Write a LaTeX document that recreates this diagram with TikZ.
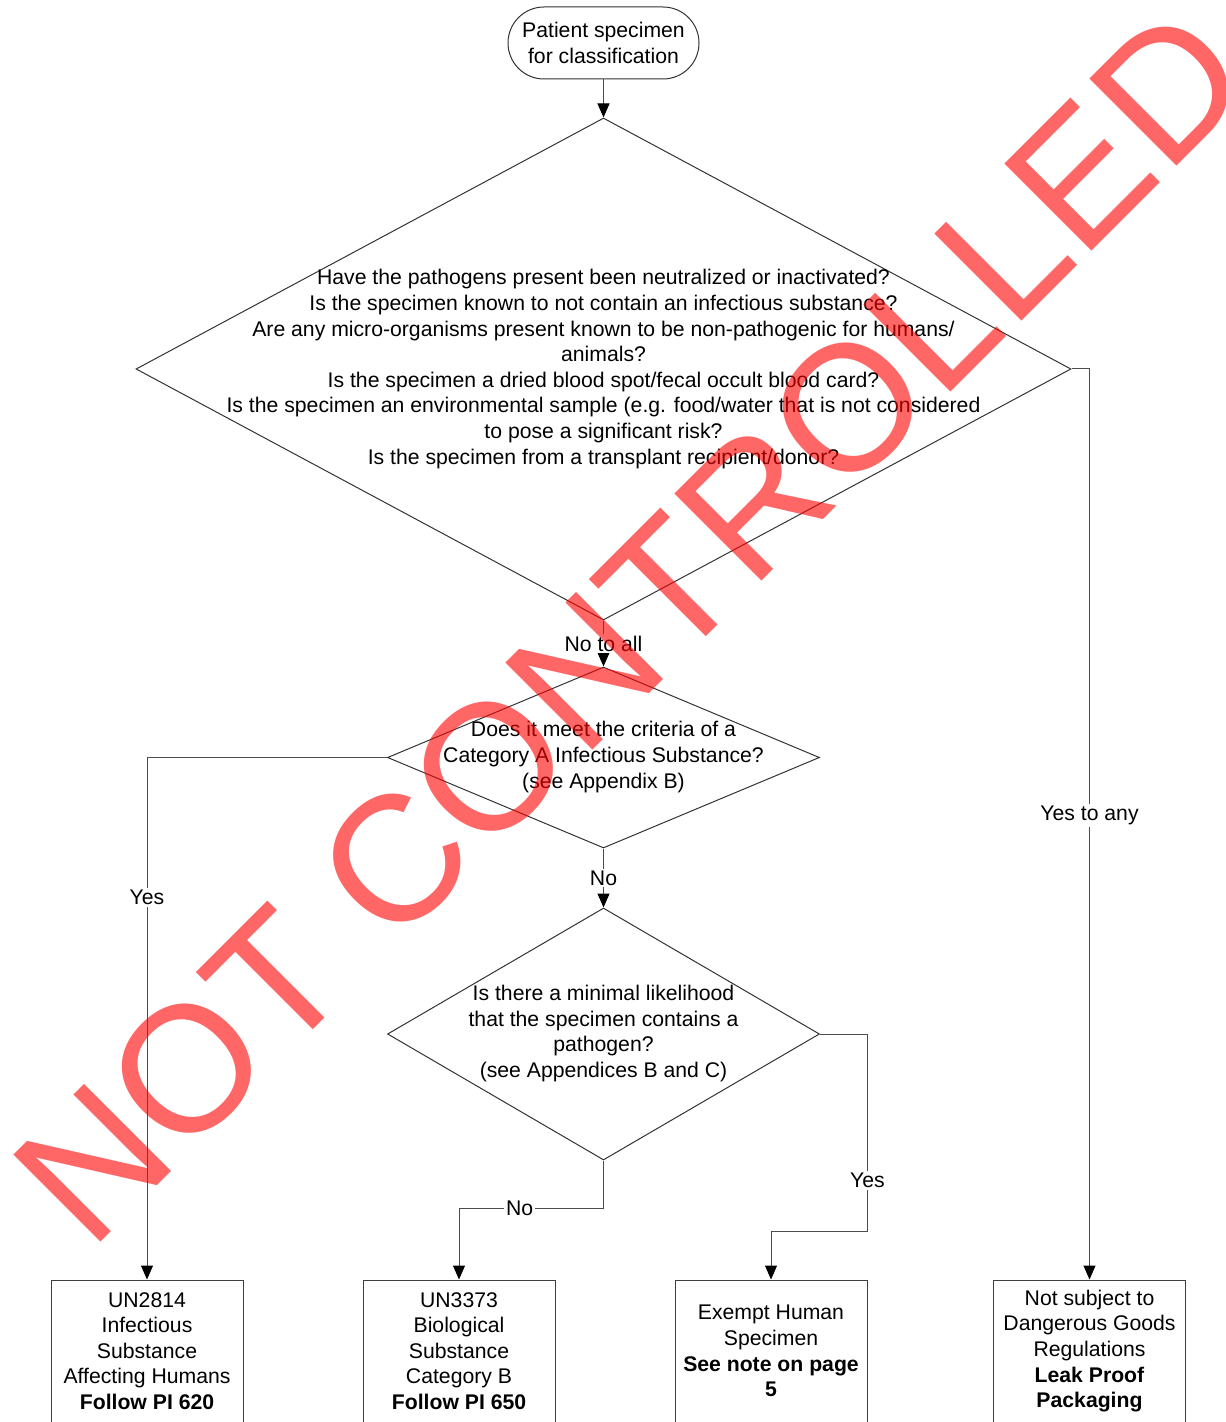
\documentclass[tikz,border=0pt]{standalone}
\usepackage{fontspec}
\setmainfont{Liberation Sans}
\usetikzlibrary{shapes.geometric,arrows.meta,calc}

\tikzset{
  decision/.style={diamond, draw=black!80, line width=0.5pt, inner sep=0pt},
  qtext/.style={align=center, inner sep=0pt, font=\fontsize{10.6}{12.8}\selectfont},
  outcome/.style={draw=black!75, line width=0.5pt, minimum width=96pt, minimum height=71pt,
    inner sep=0pt, align=center, font=\fontsize{10.6}{12.8}\selectfont},
  flow/.style={draw=black!70, line width=0.5pt, -{Triangle[length=7pt,width=6pt,black]}},
  lbl/.style={fill=white, inner sep=1pt, font=\fontsize{10.6}{12.8}\selectfont},
}

\begin{document}
\begin{tikzpicture}[x=0.5pt,y=0.5pt,yscale=-1,xscale=1]
\useasboundingbox (0,0) rectangle (1225,1422);
\clip (0,0) rectangle (1225,1422);

%Flowchart: Terminator
\node[draw=black!80, line width=0.5pt, rounded corners=18pt, minimum width=95.5pt, minimum height=36pt,
  inner sep=0pt, align=center, font=\fontsize{10.6}{12.8}\selectfont] (start) at (603.5,43)
  {Patient specimen\\for classification};

%Flowchart: Decision
\node[decision, minimum width=467.5pt, minimum height=251pt] (d1) at (603.5,369) {};
\node[qtext] (d1t) at (603.5,369) {Have the pathogens present been neutralized or inactivated?\\
  Is the specimen known to not contain an infectious substance?\\
  Are any micro-organisms present known to be non-pathogenic for humans/\\
  animals?\\
  Is the specimen a dried blood spot/fecal occult blood card?\\
  Is the specimen an environmental sample (e.g. food/water that is not considered\\
  to pose a significant risk?\\
  Is the specimen from a transplant recipient/donor?};
%Flowchart: Decision
\node[decision, minimum width=216pt, minimum height=90.5pt] (d2) at (603.5,757.5) {};
\node[qtext] (d2t) at (603.5,757) {Does it meet the criteria of a\\
  Category A Infectious Substance?\\
  (see Appendix B)};
%Flowchart: Decision
\node[decision, minimum width=216pt, minimum height=126pt] (d3) at (603.5,1034) {};
\node[qtext] (d3t) at (603.5,1033.5) {Is there a minimal likelihood\\
  that the specimen contains a\\
  pathogen?\\
  (see Appendices B and C)};

%Flowchart: Process
\node[outcome] (box1) at (147,1351) {UN2814\\Infectious\\Substance\\Affecting Humans\\\textbf{Follow PI 620}};
\node[outcome] (box2) at (459,1351) {UN3373\\Biological\\Substance\\Category B\\\textbf{Follow PI 650}};
\node[outcome] (box3) at (771,1351) {Exempt Human\\Specimen\\\textbf{See note on page}\\\textbf{5}};
\node[outcome] (box4) at (1089.5,1351) {Not subject to\\Dangerous Goods\\Regulations\\\textbf{Leak Proof}\\\textbf{Packaging}};

%Connectors
\draw[flow] (start) -- (d1.north);
\draw[flow] (d1.south) -- node[lbl] {No to all} (d2.north);
\draw[flow] (d2.west) -| node[lbl, pos=0.634] {Yes} (box1.north);
\draw[flow] (d2.south) -- node[lbl] {No} (d3.north);
\draw[flow] (d3.south) -- ++(0,48) coordinate (nobend) -| node[lbl, pos=0.29] {No} (box2.north);
\draw[flow] (d3.east) -| node[lbl, pos=0.87] {Yes} ($(box3.north east)+(0,-48)$) -| (box3.north);
\draw[flow] (d1.east) -| node[lbl, pos=0.745] {Yes to any} (box4.north);

%Watermark
\node[rotate=45, anchor=base west, inner sep=0pt, text=red, text opacity=0.6,
  font=\fontsize{89.5}{90}\selectfont] (stamp) at (90,1253) {NOT CONTROLLED};

\end{tikzpicture}
\end{document}
